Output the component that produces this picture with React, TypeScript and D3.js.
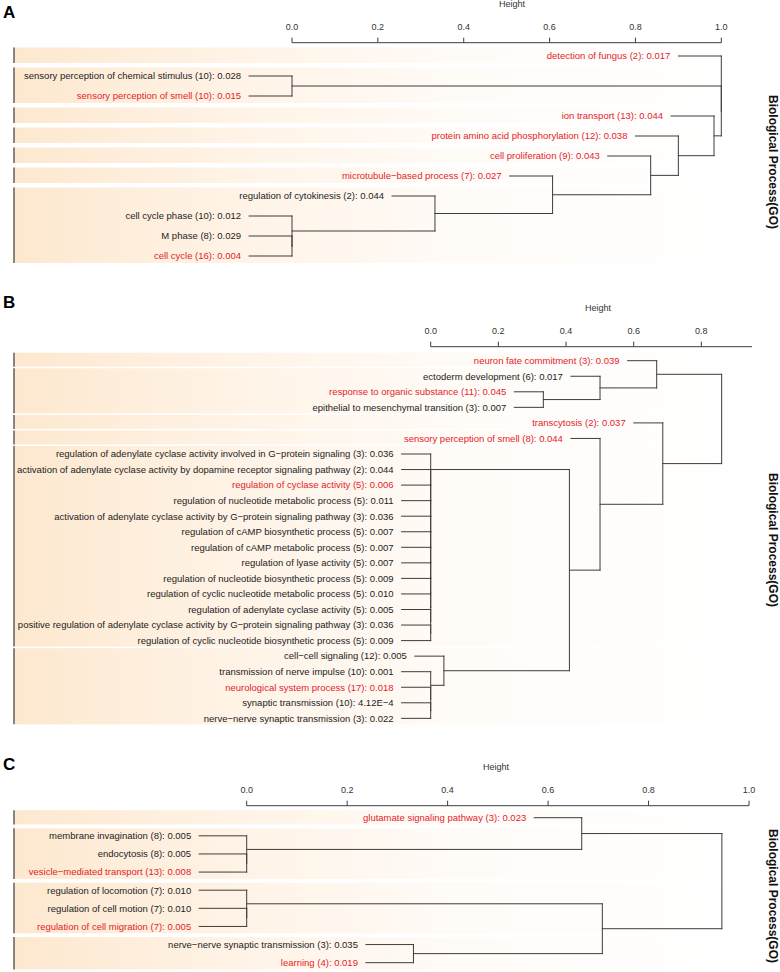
import React from "react";
import * as d3 from "d3";

// ---------- Panel A data ----------
const A_TERMS = [
  "detection of fungus",
  "sensory perception of chemical stimulus",
  "sensory perception of smell",
  "ion transport",
  "protein amino acid phosphorylation",
  "cell proliferation",
  "microtubule\u2212based process",
  "regulation of cytokinesis",
  "cell cycle phase",
  "M phase",
  "cell cycle",
];
const A_COUNTS = [2, 10, 10, 13, 12, 9, 7, 2, 10, 8, 16];
const A_PVALS = ["0.017", "0.028", "0.015", "0.044", "0.038", "0.043", "0.027", "0.044", "0.012", "0.029", "0.004"];
const A_RED = [true, false, true, true, true, true, true, false, false, false, true];
// R-style merge matrix: negative = leaf (1-based), positive = earlier merge (1-based)
const A_MERGES: [number, number][] = [
  [-10, -11], [-9, 1], [-8, 2], [-7, 3], [-6, 4], [-5, 5], [-4, 6], [-2, -3], [8, 7], [-1, 9],
];
const A_HEIGHTS = [0, 0, 0.333, 0.607, 0.8355, 0.9, 0.983, 0, 1.0, 1.0];
const A_CLUSTERS = [1, 2, 1, 1, 1, 1, 4];
const A_TICKS = [0, 0.2, 0.4, 0.6, 0.8, 1.0];

// ---------- Panel B data ----------
const B_TERMS = [
  "neuron fate commitment",
  "ectoderm development",
  "response to organic substance",
  "epithelial to mesenchymal transition",
  "transcytosis",
  "sensory perception of smell",
  "regulation of adenylate cyclase activity involved in G\u2212protein signaling",
  "activation of adenylate cyclase activity by dopamine receptor signaling pathway",
  "regulation of cyclase activity",
  "regulation of nucleotide metabolic process",
  "activation of adenylate cyclase activity by G\u2212protein signaling pathway",
  "regulation of cAMP biosynthetic process",
  "regulation of cAMP metabolic process",
  "regulation of lyase activity",
  "regulation of nucleotide biosynthetic process",
  "regulation of cyclic nucleotide metabolic process",
  "regulation of adenylate cyclase activity",
  "positive regulation of adenylate cyclase activity by G\u2212protein signaling pathway",
  "regulation of cyclic nucleotide biosynthetic process",
  "cell\u2212cell signaling",
  "transmission of nerve impulse",
  "neurological system process",
  "synaptic transmission",
  "nerve\u2212nerve synaptic transmission",
];
const B_COUNTS = [3, 6, 11, 3, 2, 8, 3, 2, 5, 5, 3, 5, 5, 5, 5, 5, 5, 3, 5, 12, 10, 17, 10, 3];
const B_PVALS = [
  "0.039", "0.017", "0.045", "0.007", "0.037", "0.044",
  "0.036", "0.044", "0.006", "0.011", "0.036", "0.007", "0.007", "0.007", "0.009", "0.010", "0.005", "0.036", "0.009",
  "0.005", "0.001", "0.018", "4.12E\u22124", "0.022",
];
const B_RED = [
  true, false, true, false, true, true,
  false, false, true, false, false, false, false, false, false, false, false, false, false,
  false, false, true, false, false,
];
const B_MERGES: [number, number][] = [
  [-3, -4], [-2, 1], [-1, 2],
  [-18, -19], [-17, 4], [-16, 5], [-15, 6], [-14, 7], [-13, 8], [-12, 9], [-11, 10], [-10, 11], [-9, 12], [-8, 13], [-7, 14],
  [-23, -24], [-22, 16], [-21, 17], [-20, 18],
  [15, 19], [-6, 20], [-5, 21], [3, 22],
];
const B_HEIGHTS = [
  0.333, 0.5005, 0.668,
  0, 0, 0, 0, 0, 0, 0, 0, 0, 0, 0, 0,
  0, 0, 0, 0.039,
  0.41, 0.5005, 0.686, 0.86,
];
const B_CLUSTERS = [1, 3, 1, 1, 13, 5];
const B_TICKS = [0, 0.2, 0.4, 0.6, 0.8];

// ---------- Panel C data ----------
const C_TERMS = [
  "glutamate signaling pathway",
  "membrane invagination",
  "endocytosis",
  "vesicle\u2212mediated transport",
  "regulation of locomotion",
  "regulation of cell motion",
  "regulation of cell migration",
  "nerve\u2212nerve synaptic transmission",
  "learning",
];
const C_COUNTS = [3, 8, 8, 13, 7, 7, 7, 3, 4];
const C_PVALS = ["0.023", "0.005", "0.005", "0.008", "0.010", "0.010", "0.005", "0.035", "0.019"];
const C_RED = [true, false, false, true, false, false, true, false, true];
const C_MERGES: [number, number][] = [
  [-3, -4], [-2, 1], [-1, 2], [-6, -7], [-5, 4], [-8, -9], [5, 6], [3, 7],
];
const C_HEIGHTS = [0, 0, 0.667, 0, 0, 0.332, 0.708, 0.946];
const C_CLUSTERS = [1, 3, 3, 2];
const C_TICKS = [0, 0.2, 0.4, 0.6, 0.8, 1.0];

// ---------- layout ----------
const FONT = "'Liberation Sans', Arial, Helvetica, sans-serif";
const RED = "#e3232b";
const INK = "#1c1c1c";
const LINE = "#3d3d3d";
const BOX_X0 = 13.5;
const BOX_X1 = 745;

type PanelProps = {
  id: string;
  letter: string;
  letterY: number;
  terms: string[];
  counts: number[];
  pvals: string[];
  red: boolean[];
  merges: [number, number][];
  heights: number[];
  clusters: number[];
  ticks: number[];
  domainMax: number;
  x0: number;
  x1: number;
  axisY: number;
  rowY0: number;
  rowStep: number;
  heightX: number;
  sideY: number;
  padTop: number;
  padBot: number;
};

function Panel(p: PanelProps) {
  const x = d3.scaleLinear().domain([0, p.domainMax]).range([p.x0, p.x1]);
  const y = (i: number) => p.rowY0 + i * p.rowStep;
  const hang = 0.1 * (d3.max(p.heights) as number);

  const nodeY: number[] = [];
  const childY = (c: number) => (c < 0 ? y(-c - 1) : nodeY[c - 1]);
  p.merges.forEach((m, k) => {
    nodeY[k] = (childY(m[0]) + childY(m[1])) / 2;
  });

  const segs: { x1: number; y1: number; x2: number; y2: number }[] = [];
  const leafX: number[] = [];
  p.merges.forEach((m, k) => {
    const h = p.heights[k];
    const xm = x(h);
    segs.push({ x1: xm, y1: childY(m[0]), x2: xm, y2: childY(m[1]) });
    m.forEach((c) => {
      const cy = childY(c);
      let cx: number;
      if (c < 0) {
        cx = x(h - hang);
        leafX[-c - 1] = cx;
      } else {
        cx = x(p.heights[c - 1]);
      }
      segs.push({ x1: cx, y1: cy, x2: xm, y2: cy });
    });
  });

  const boxes: { top: number; bot: number }[] = [];
  let start = 0;
  p.clusters.forEach((n) => {
    boxes.push({ top: y(start) - p.padTop, bot: y(start + n - 1) + p.padBot });
    start += n;
  });

  const tickLabelY = p.axisY - 13;

  return (
    <g>
      <text x={3} y={p.letterY} fontFamily={FONT} fontWeight="bold" fontSize={17} fill="#000">
        {p.letter}
      </text>
      {boxes.map((b, i) => (
        <g key={i}>
          <rect x={BOX_X0} y={b.top} width={BOX_X1 - BOX_X0} height={b.bot - b.top} fill="url(#boxFill)" />
          <line x1={BOX_X0} x2={BOX_X1} y1={b.top + 0.5} y2={b.top + 0.5} stroke="url(#topEdge)" strokeWidth={1.2} />
          <line x1={BOX_X0} x2={BOX_X1} y1={b.bot - 0.5} y2={b.bot - 0.5} stroke="url(#botEdge)" strokeWidth={1} />
          <line x1={BOX_X0 + 0.5} x2={BOX_X0 + 0.5} y1={b.top} y2={b.bot} stroke="#6f6a64" strokeWidth={1.6} />
        </g>
      ))}
      <line x1={x(0)} x2={p.x1} y1={p.axisY} y2={p.axisY} stroke={LINE} strokeWidth={1} />
      {p.ticks.map((t) => (
        <g key={t}>
          <line x1={x(t)} x2={x(t)} y1={p.axisY} y2={p.axisY - 5} stroke={LINE} strokeWidth={1} />
          <text x={x(t)} y={tickLabelY} textAnchor="middle" fontFamily={FONT} fontSize={9} fill="#333">
            {t.toFixed(1)}
          </text>
        </g>
      ))}
      <text x={p.heightX} y={tickLabelY - 23} textAnchor="middle" fontFamily={FONT} fontSize={9} fill="#333">
        Height
      </text>
      {segs.map((s, i) => (
        <line key={i} x1={s.x1} y1={s.y1} x2={s.x2} y2={s.y2} stroke={LINE} strokeWidth={1} strokeLinecap="square" />
      ))}
      {p.terms.map((t, i) => (
        <text
          key={i}
          x={leafX[i] - 8}
          y={y(i)}
          dy="0.35em"
          textAnchor="end"
          fontFamily={FONT}
          fontSize={9.5}
          fill={p.red[i] ? RED : INK}
        >
          {`${t} (${p.counts[i]}): ${p.pvals[i]}`}
        </text>
      ))}
      <text
        transform={`translate(769,${p.sideY}) rotate(90)`}
        textAnchor="middle"
        fontFamily={FONT}
        fontWeight="bold"
        fontSize={12}
        fill="#111"
      >
        Biological Process(GO)
      </text>
    </g>
  );
}

export default function App() {
  return (
    <svg
      width={780}
      height={972}
      viewBox="0 0 780 972"
      style={{ position: "absolute", left: 0, top: 0, background: "#fff" }}
    >
      <defs>
        <linearGradient id="boxFill" x1="0" x2="1" y1="0" y2="0">
          <stop offset="0" stopColor="#fde8cf" />
          <stop offset="0.3" stopColor="#fff3e6" />
          <stop offset="0.6" stopColor="#fffbf7" />
          <stop offset="1" stopColor="#ffffff" />
        </linearGradient>
        <linearGradient id="topEdge" x1="0" x2="1" y1="0" y2="0">
          <stop offset="0" stopColor="#9a958f" />
          <stop offset="0.5" stopColor="#e6e2dd" />
          <stop offset="1" stopColor="#ffffff" />
        </linearGradient>
        <linearGradient id="botEdge" x1="0" x2="1" y1="0" y2="0">
          <stop offset="0" stopColor="#e8ddd0" />
          <stop offset="1" stopColor="#ffffff" />
        </linearGradient>
      </defs>
      <rect x={0} y={0} width={780} height={972} fill="#fff" />
      <Panel
        id="A"
        letter="A"
        letterY={18}
        terms={A_TERMS}
        counts={A_COUNTS}
        pvals={A_PVALS}
        red={A_RED}
        merges={A_MERGES}
        heights={A_HEIGHTS}
        clusters={A_CLUSTERS}
        ticks={A_TICKS}
        domainMax={1}
        x0={292}
        x1={721.3}
        axisY={42.7}
        rowY0={56}
        rowStep={20}
        heightX={512}
        sideY={162}
        padTop={8.5}
        padBot={7}
      />
      <Panel
        id="B"
        letter="B"
        letterY={308}
        terms={B_TERMS}
        counts={B_COUNTS}
        pvals={B_PVALS}
        red={B_RED}
        merges={B_MERGES}
        heights={B_HEIGHTS}
        clusters={B_CLUSTERS}
        ticks={B_TICKS}
        domainMax={0.95}
        x0={430.7}
        x1={752.1}
        axisY={346.7}
        rowY0={360.7}
        rowStep={15.55}
        heightX={598}
        sideY={540}
        padTop={8}
        padBot={6}
      />
      <Panel
        id="C"
        letter="C"
        letterY={770}
        terms={C_TERMS}
        counts={C_COUNTS}
        pvals={C_PVALS}
        red={C_RED}
        merges={C_MERGES}
        heights={C_HEIGHTS}
        clusters={C_CLUSTERS}
        ticks={C_TICKS}
        domainMax={1}
        x0={246.7}
        x1={749}
        axisY={805.7}
        rowY0={817.7}
        rowStep={18.125}
        heightX={496}
        sideY={896}
        padTop={7.5}
        padBot={6.8}
      />
    </svg>
  );
}
